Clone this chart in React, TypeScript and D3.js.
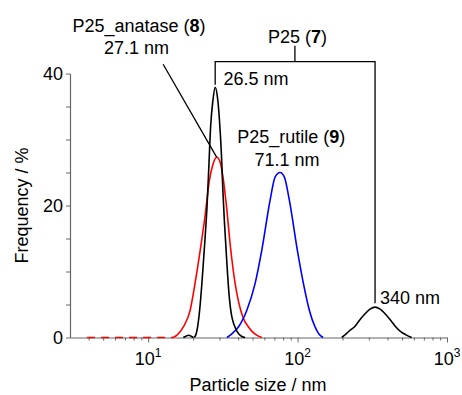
import React, { useRef, useEffect } from 'react';
import * as d3 from 'd3';

// axis setup
const sizeDomain: [number, number] = [3, 1000];
const freqDomain: [number, number] = [0, 40];
const freqTicks = [0, 5, 10, 15, 20, 25, 30, 35, 40];
const freqTickLabels = [0, 20, 40];
const sizeMajorTicks = [10, 100, 1000];
const sizeMinorTicks = [4, 5, 6, 7, 8, 9, 20, 30, 40, 50, 60, 70, 80, 90, 200, 300, 400, 500, 600, 700, 800, 900];
const sizeTickExponents = ['1', '2', '3'];

// [particle size (nm), frequency (%)]
const p25Bump: [number, number][] = [
  [17.2, 0], [17.9, 0.2], [18.7, 0.35], [19.4, 0.2], [20.1, 0],
];
const p25Main: [number, number][] = [
  [20.4, 0], [21.0, 0.6], [21.5, 1.8], [22.3, 5.0], [23.2, 10.0], [24.0, 14.8], [24.8, 20.0],
  [25.5, 26.0], [26.2, 32.0], [27.1, 35.8], [28.1, 37.9], [29.1, 36.4], [30.0, 33.0],
  [30.9, 28.0], [31.6, 22.5], [32.4, 17.5], [33.6, 11.5], [34.8, 6.5], [36.2, 3.3],
  [37.5, 2.0], [39.4, 0.9], [42.4, 0.15], [44.6, 0],
];
const p25Large: [number, number][] = [
  [197.6, 0], [207.8, 0.4], [224.4, 1.1], [242.5, 1.7], [255.3, 2.4], [283, 3.6], [305.6, 4.3],
  [330, 4.6], [356.5, 4.3], [385, 3.6], [426.6, 2.4], [455, 1.6], [489.8, 0.9], [532, 0.4], [580.4, 0],
];
const anatase: [number, number][] = [
  [3.9, 0], [14.7, 0], [15.6, 0.35], [17.2, 1.6], [19.1, 4.1], [20.6, 8.2], [22.3, 13.2],
  [24.1, 18.6], [25.7, 23.8], [27.2, 26.3], [28.8, 27.3], [30.3, 26.6], [31.6, 24.5],
  [33.3, 20.3], [35.6, 13.6], [38.2, 8.2], [40.3, 5.4], [43.2, 3.0], [46.9, 1.6], [52.0, 0.5], [57.6, 0],
];
const rutile: [number, number][] = [
  [33.7, 0], [36.5, 0.6], [40.2, 1.6], [45.7, 4.1], [52.0, 8.2], [57.6, 13.2], [65.5, 20.8],
  [70.7, 24.3], [76.4, 25.0], [81.6, 24.3], [88.1, 20.8], [99.7, 13.2], [109.4, 8.2],
  [120.0, 4.1], [130.9, 1.6], [139.3, 0.5], [148.2, 0],
];

const FONT = '"Liberation Sans", Arial, sans-serif';

const App = () => {
  const svgRef = useRef<SVGSVGElement>(null);

  useEffect(() => {
    const svg = d3.select(svgRef.current);
    svg.selectAll('*').remove();

    const x = d3.scaleLog().domain(sizeDomain).range([70, 447]);
    const y = d3.scaleLinear().domain(freqDomain).range([337.5, 73.5]);
    const axisColor = '#666';

    // Y axis
    const yAxis = svg.append('g')
      .attr('transform', `translate(${x(sizeDomain[0])},0)`)
      .call(d3.axisLeft(y).tickValues(freqTicks).tickSize(4).tickSizeOuter(0).tickPadding(3)
        .tickFormat((d: any) => (freqTickLabels.includes(+d) ? String(d) : '')));
    yAxis.select('.domain').attr('stroke', axisColor).attr('stroke-width', 1.2);
    yAxis.selectAll('.tick line').attr('stroke', axisColor);
    yAxis.selectAll('.tick text').attr('fill', '#000').style('font-family', FONT).style('font-size', '18px');

    // X axis
    const xAxis = svg.append('g')
      .attr('transform', `translate(0,${y(0)})`)
      .call(d3.axisBottom(x).tickValues([...sizeMinorTicks, ...sizeMajorTicks]).tickSizeOuter(0).tickFormat(() => ''));
    xAxis.select('.domain').attr('stroke', axisColor).attr('stroke-width', 1.2);
    xAxis.selectAll('.tick line')
      .attr('stroke', axisColor)
      .attr('y2', (d: any) => (sizeMajorTicks.includes(+d) ? 5 : 3));

    sizeMajorTicks.forEach((v, i) => {
      const t = svg.append('text')
        .attr('x', x(v))
        .attr('y', 365)
        .attr('text-anchor', 'middle')
        .style('font-family', FONT)
        .style('font-size', '18px');
      t.append('tspan').text('10');
      t.append('tspan').attr('dy', -8).style('font-size', '12px').text(sizeTickExponents[i]);
    });

    // axis labels
    svg.append('text')
      .attr('x', 258)
      .attr('y', 391)
      .attr('text-anchor', 'middle')
      .style('font-family', FONT)
      .style('font-size', '18px')
      .text('Particle size / nm');

    svg.append('text')
      .attr('transform', `translate(28,${(y(0) + y(40)) / 2}) rotate(-90)`)
      .attr('text-anchor', 'middle')
      .style('font-family', FONT)
      .style('font-size', '18px')
      .text('Frequency / %');

    // curves
    const line = d3.line<[number, number]>()
      .x(d => x(d[0]))
      .y(d => y(d[1]))
      .curve(d3.curveMonotoneX);

    const drawCurve = (data: [number, number][], color: string) => {
      svg.append('path')
        .datum(data)
        .attr('fill', 'none')
        .attr('stroke', color)
        .attr('stroke-width', 1.6)
        .attr('d', line);
    };

    // red flat baseline part appears dashed
    const firstRise = anatase.findIndex(d => d[1] > 0) - 1;
    svg.append('path')
      .datum(anatase.slice(0, firstRise + 1))
      .attr('fill', 'none')
      .attr('stroke', 'red')
      .attr('stroke-width', 1.6)
      .attr('stroke-dasharray', '8,6')
      .attr('d', line);
    drawCurve(anatase.slice(firstRise), 'red');
    drawCurve(rutile, 'blue');
    drawCurve(p25Bump, 'black');
    drawCurve(p25Main, 'black');
    drawCurve(p25Large, 'black');

    // annotations
    const ann = svg.append('g').attr('fill', 'none').attr('stroke', 'black').attr('stroke-width', 1.3);
    ann.append('path')
      .attr('d', `M${x(28.1)},${y(38.3)}V${y(41.8)}H${x(330)}V${y(5.2)}`);
    ann.append('path')
      .attr('d', `M${x(96)},${y(41.8)}V${y(44.2)}`);
    ann.append('path')
      .attr('d', `M${x(12.6)},${y(41.4)}L${x(28.8)},${y(27.3)}`);

    const label = (px: number, py: number, anchor: string, parts: [string, boolean][]) => {
      const t = svg.append('text')
        .attr('x', px)
        .attr('y', py)
        .attr('text-anchor', anchor)
        .style('font-family', FONT)
        .style('font-size', '18px');
      parts.forEach(([s, bold]) => {
        t.append('tspan').style('font-weight', bold ? 'bold' : 'normal').text(s);
      });
    };

    label(139, 31.7, 'middle', [['P25_anatase (', false], ['8', true], [')', false]]);
    label(136.5, 54, 'middle', [['27.1 nm', false]]);
    label(297.5, 42.5, 'middle', [['P25 (', false], ['7', true], [')', false]]);
    label(223.5, 85, 'start', [['26.5 nm', false]]);
    label(291.3, 143.3, 'middle', [['P25_rutile (', false], ['9', true], [')', false]]);
    label(287, 165.7, 'middle', [['71.1 nm', false]]);
    label(380, 304, 'start', [['340 nm', false]]);
  }, []);

  return (
    <svg ref={svgRef} width={462} height={395} style={{ position: 'absolute', left: 0, top: 0, background: '#fff' }}></svg>
  );
};

export default App;
